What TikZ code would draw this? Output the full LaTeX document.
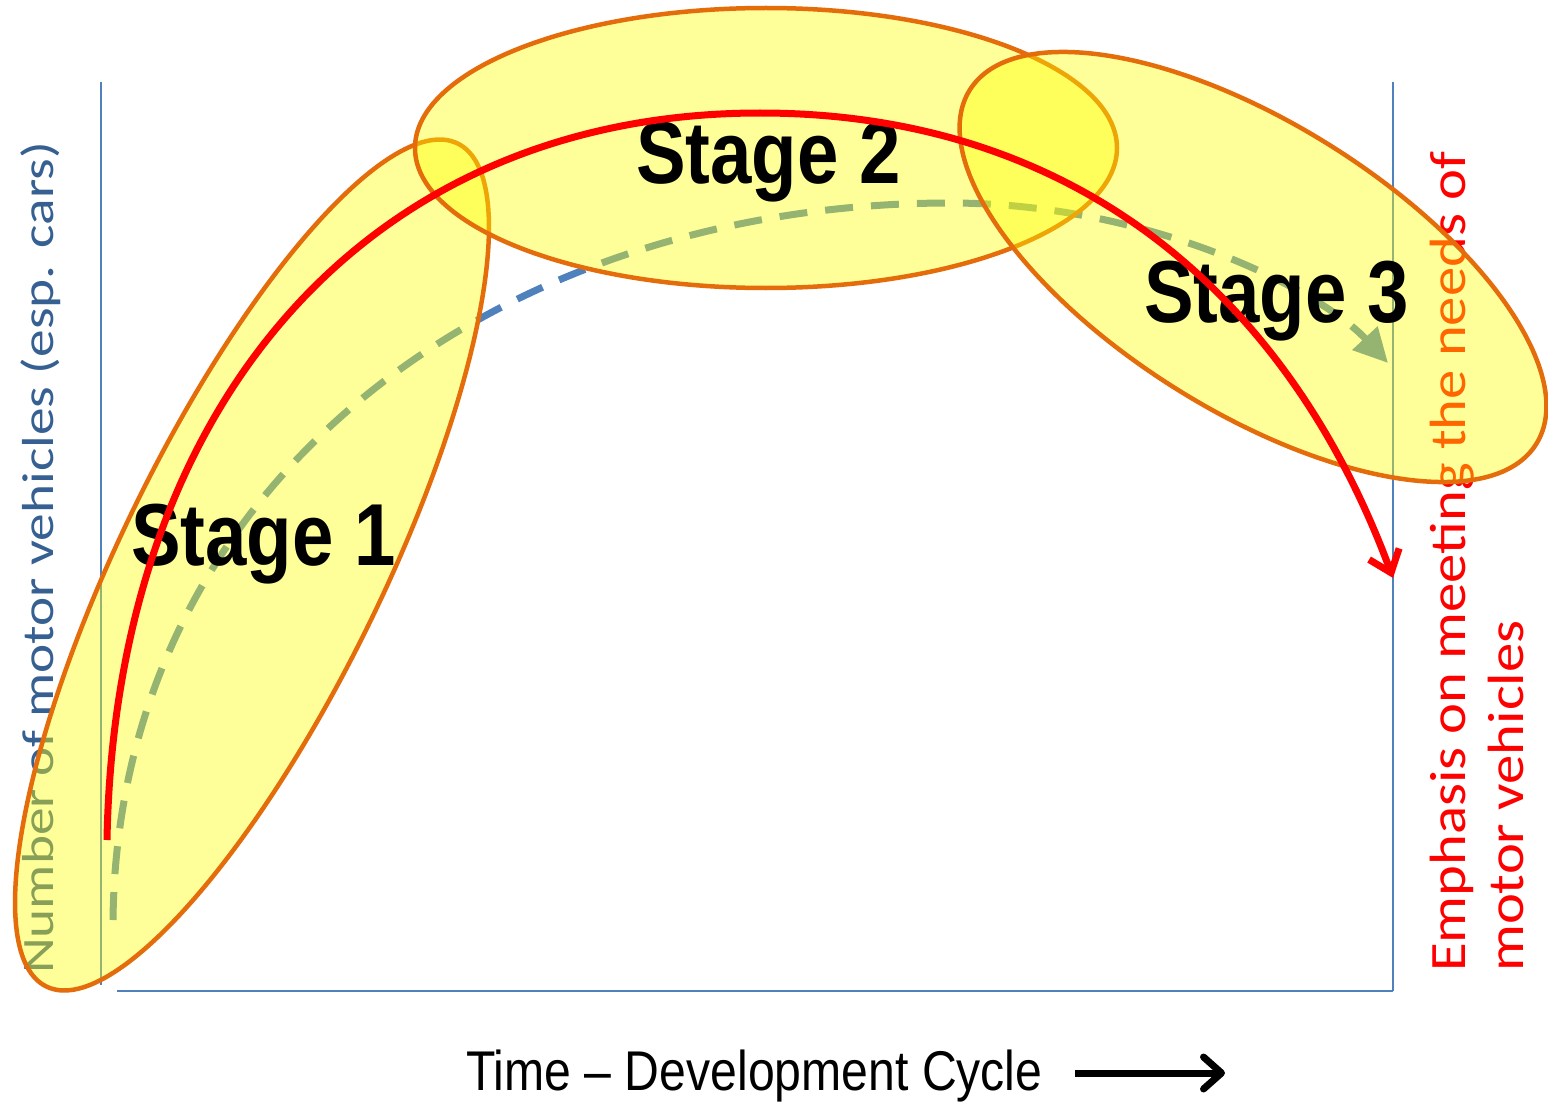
\documentclass[tikz,border=0pt]{standalone}
\usepackage{fontspec}
\setmainfont{Liberation Sans}
\newfontfamily\labelfont{Carlito}
\usetikzlibrary{arrows.meta,shapes.geometric}

\definecolor{axisblue}{RGB}{79,129,189}
\definecolor{ylabblue}{RGB}{55,96,146}
\definecolor{stageedge}{RGB}{228,108,10}
\definecolor{stagefill}{RGB}{255,255,0}
\definecolor{arcred}{RGB}{255,0,0}

\begin{document}
\begin{tikzpicture}[x=1pt,y=-1pt,
  axisline/.style={draw=axisblue,line width=2.2pt},
  growth/.style={draw=axisblue,line width=7pt,dash pattern=on 28pt off 18pt,
    -{Triangle[length=34pt,width=33pt]}},
  redarc/.style={draw=arcred,line width=7pt,-{Straight Barb[length=20pt,width=32pt]}},
  stageblob/.style={ellipse,draw=stageedge,line width=4.5pt,fill=stagefill,
    fill opacity=0.4,draw opacity=1,inner sep=0pt},
  stagelabel/.style={anchor=base west,inner sep=0pt,
    font=\fontsize{88}{88}\selectfont\bfseries},
  sidelabel/.style={anchor=base west,inner sep=0pt,rotate=90},
]
\useasboundingbox (0,0) rectangle (1548,1105);
\fill[white] (0,0) rectangle (1548,1105);

% chart frame
\coordinate (ytop) at (101,82);
\coordinate (ybot) at (101,985);
\coordinate (xleft) at (117,991);
\coordinate (xright) at (1393,991);
\coordinate (rtop) at (1393,82);
\draw[axisline] (ytop) -- (ybot);
\draw[axisline] (xleft) -- (xright);
\draw[axisline] (rtop) -- (xright);

% side captions
\node[sidelabel,text=ylabblue] (ylab) at (53,974)
  {\scalebox{1.235}[1]{\labelfont\fontsize{44.8}{50}\selectfont Number of motor vehicles (esp. cars)}};
\node[sidelabel,text=arcred] (rlabA) at (1465,972)
  {\scalebox{1.15}[1]{\labelfont\fontsize{51}{56}\selectfont Emphasis on meeting the needs of}};
\node[sidelabel,text=arcred] (rlabB) at (1523,972)
  {\scalebox{1.15}[1]{\labelfont\fontsize{51}{56}\selectfont motor vehicles}};

% growth of the vehicle fleet
\coordinate (gstart) at (113,920);
\coordinate (gpeak) at (950,203);
\coordinate (gend) at (1388,363);
\draw[growth] (gstart) .. controls (118,480) and (500,203) .. (gpeak)
  .. controls (1150,203) and (1320,290) .. (gend);

% the three stages
\node[stageblob,minimum width=938pt,minimum height=262pt,rotate=64] (s1) at (252,565) {};
\node[stageblob,minimum width=702pt,minimum height=280pt] (s2) at (766,148) {};
\node[stageblob,minimum width=668pt,minimum height=288pt,rotate=-32] (s3) at (1253,267) {};

\node[stagelabel] (l1) at (131,565) {\scalebox{0.845}[1]{Stage 1}};
\node[stagelabel] (l2) at (636,183) {\scalebox{0.845}[1]{Stage 2}};
\node[stagelabel] (l3) at (1144,322) {\scalebox{0.845}[1]{Stage 3}};

% emphasis on motor vehicles
\coordinate (rstart) at (107,840);
\coordinate (rpeak) at (760,113);
\coordinate (rend) at (1393,578);
\draw[redarc] (rstart) .. controls (115,404) and (368,113) .. (rpeak)
  .. controls (1080,113) and (1290,300) .. (rend);

% time axis caption
\node[anchor=base west,inner sep=0pt,font=\fontsize{56}{56}\selectfont] (tlab) at (466,1090)
  {\scalebox{0.86}[1]{Time – Development Cycle}};
\coordinate (ta) at (1075,1073);
\coordinate (tb) at (1225,1073);
\draw[line width=7pt,-{Straight Barb[length=18pt,width=32pt,round]}] (ta) -- (tb);
\end{tikzpicture}
\end{document}
